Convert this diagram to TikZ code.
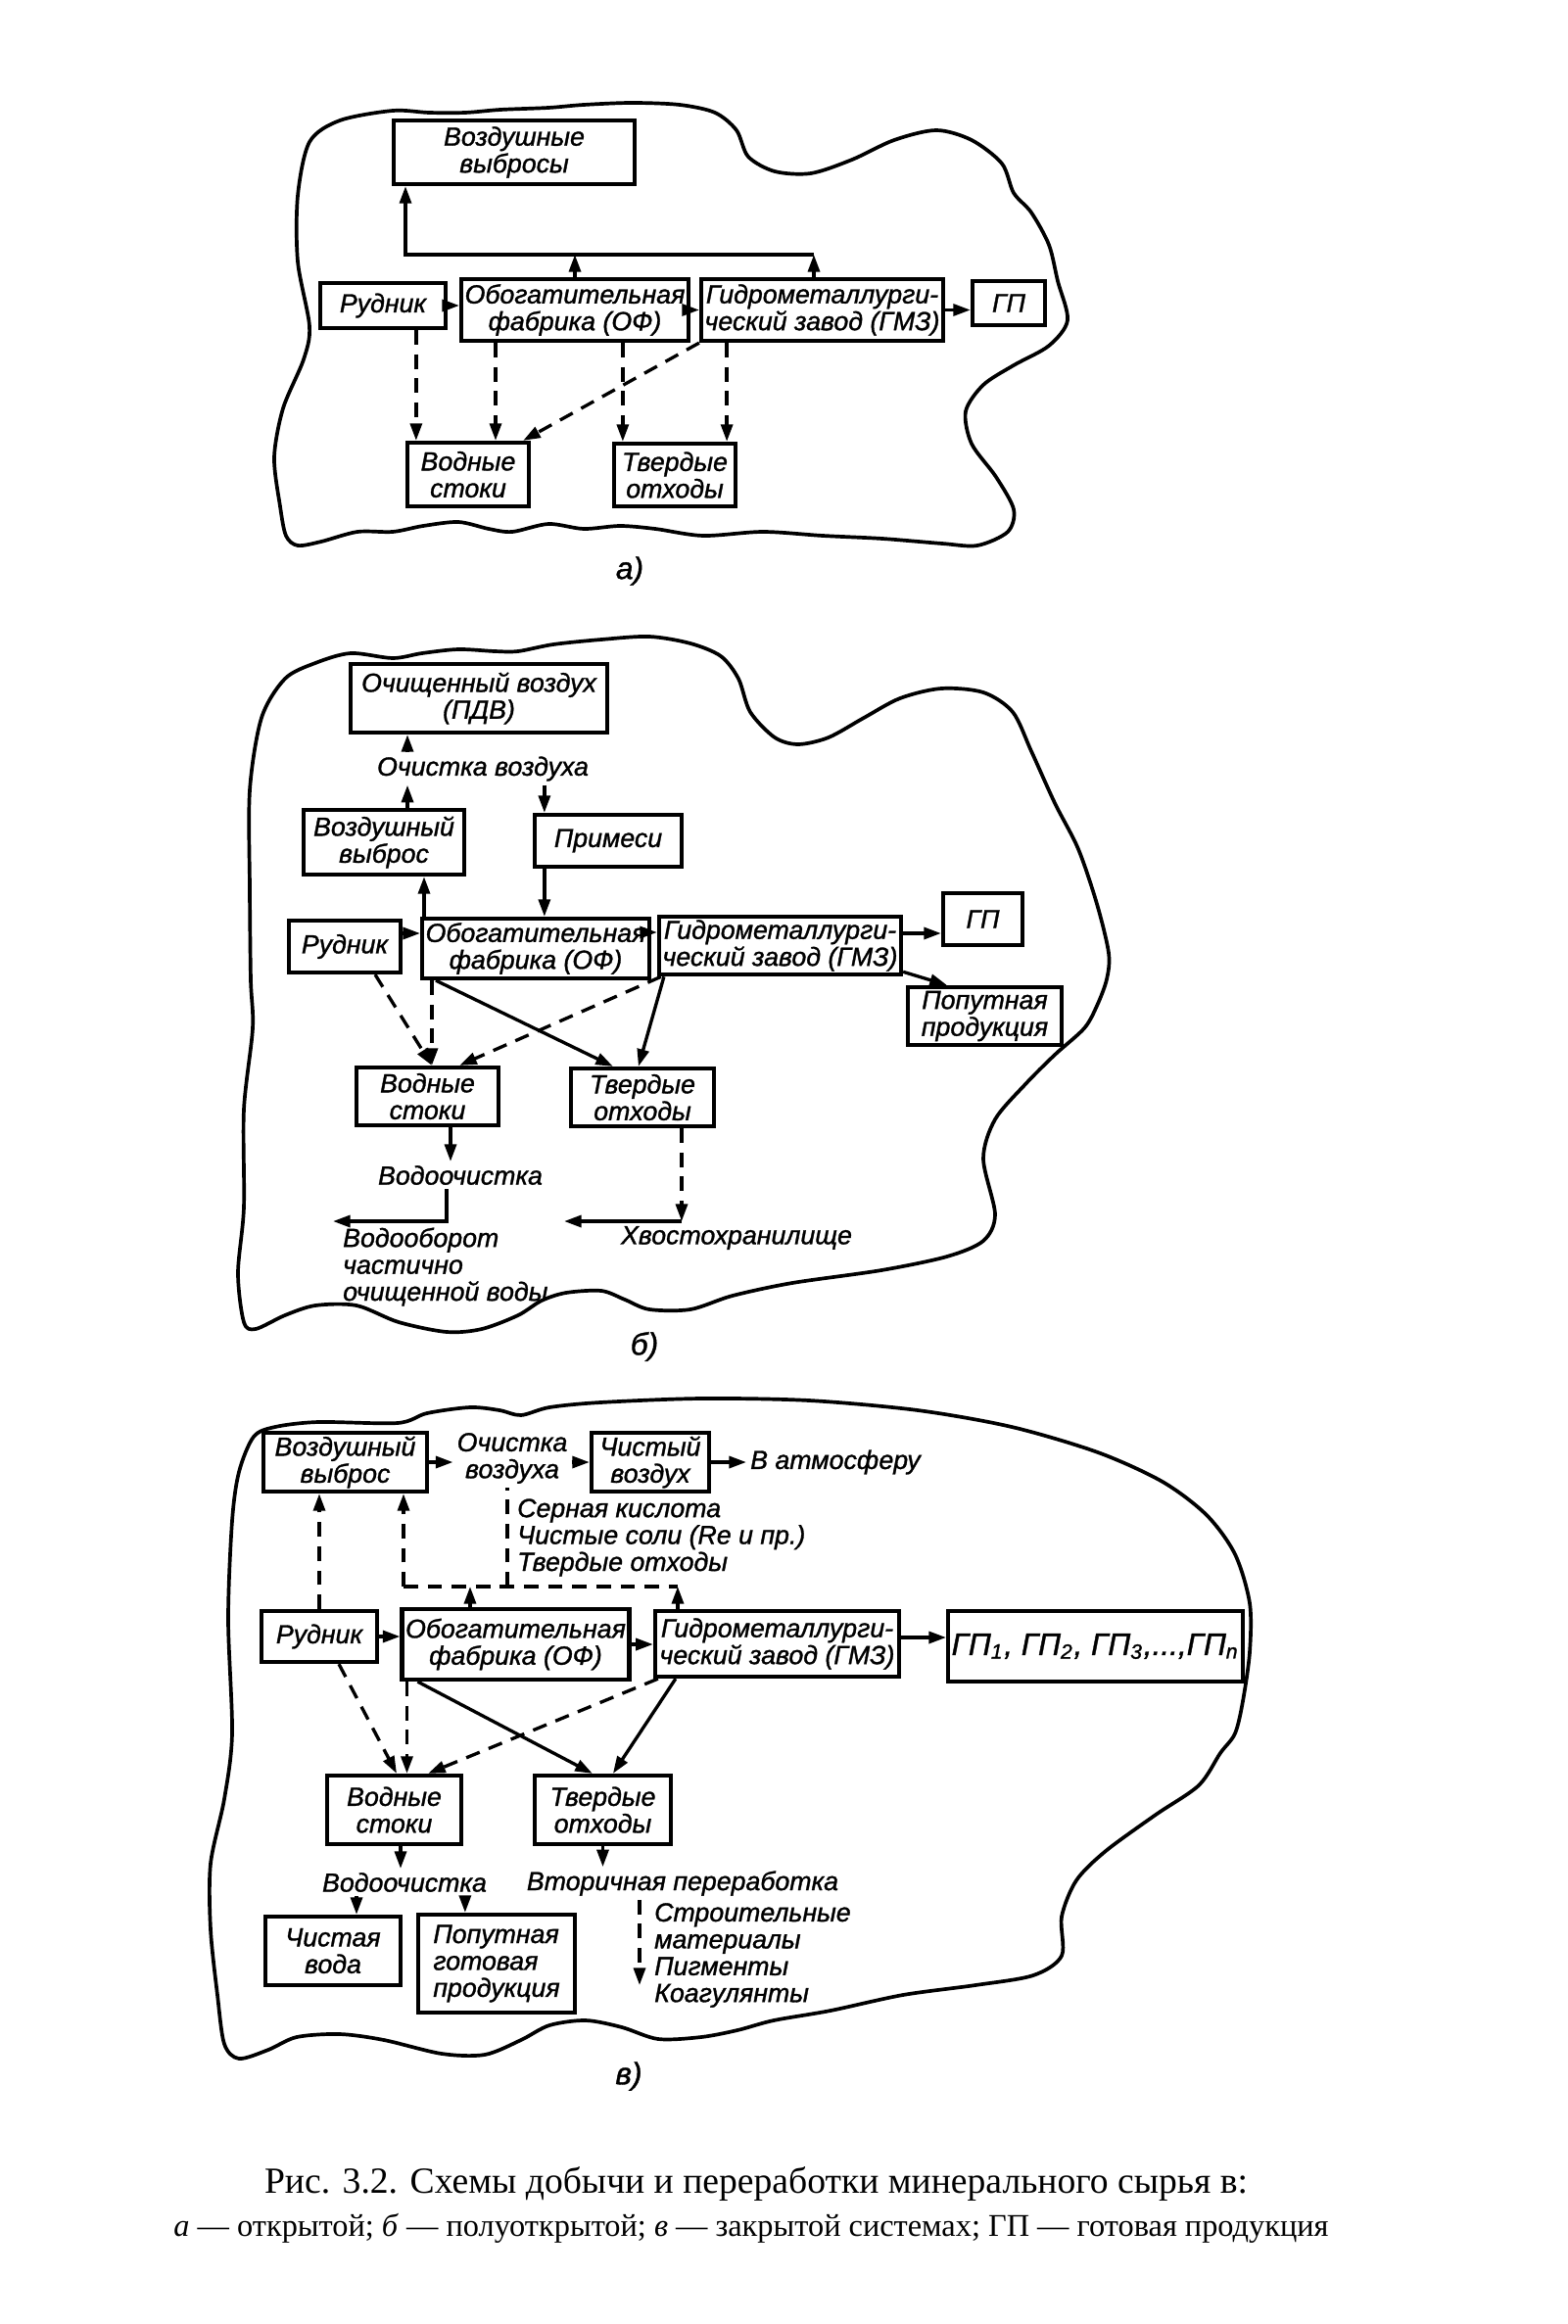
\documentclass[tikz,border=0pt]{standalone}
\usepackage{fontspec}
\setmainfont{Liberation Serif}
\newfontfamily\dsans{Liberation Sans}[ItalicFeatures={FakeBold=1.2}]
\usetikzlibrary{arrows.meta}
\newcommand{\dtext}{\dsans\itshape\fontsize{7.6}{7.8}\selectfont}
\newcommand{\plabel}{\dsans\itshape\fontsize{9}{10}\selectfont}
\newcommand{\gpfont}{\dsans\itshape\fontsize{9}{10}\selectfont}
\newcommand{\capone}{\fontsize{10.7}{12}\selectfont}
\newcommand{\captwo}{\fontsize{9.2}{11}\selectfont}
\begin{document}
\begin{tikzpicture}[x=0.01cm,y=-0.01cm,
  box/.style={draw, line width=1.2pt, inner sep=1pt, font=\dtext, align=center},
  lbl/.style={inner sep=1pt, font=\dtext, align=left},
  arr/.style={line width=0.95pt, -{Triangle[length=5pt,width=3.4pt]}},
  darr/.style={arr, dash pattern=on 4.2pt off 2.8pt},
  dline/.style={line width=0.95pt, dash pattern=on 4.2pt off 2.8pt},
  blob/.style={line width=1.05pt, line join=round}]
\fill[white] (0,0) rectangle (1600,2373);
\useasboundingbox (0,0) rectangle (1600,2373);

% ================= panel a =================
\draw[blob] plot[smooth cycle, tension=0.5] coordinates {
(316,145) (347,123) (401,113) (438,115) (475,115) (511,112) (560,110) (596,107)
(645,105) (694,107) (730,115) (752,133) (764,160) (791,175) (828,177) (870,163)
(913,143) (956,133) (992,143) (1023,167) (1035,197) (1053,217) (1071,250) (1080,287)
(1090,327) (1071,353) (1035,373) (1004,393) (986,420) (992,453) (1017,487) (1035,520)
(1029,543) (998,557) (962,555) (901,550) (840,547) (779,543) (718,547) (669,540)
(633,537) (596,540) (560,535) (523,543) (499,540) (468,533) (432,537) (401,543)
(365,543) (328,553) (304,557) (292,547) (286,517) (280,467) (289,417) (310,367)
(316,333) (304,267) (304,200)};

\node[box, minimum width=2.46cm, minimum height=0.65cm] (a_air) at (525,155.5) {Воздушные\\выбросы};
\node[box, minimum width=1.28cm, minimum height=0.46cm] (a_mine) at (391,312) {Рудник};
\node[box, minimum width=2.06cm, minimum height=0.63cm] (a_of) at (587,316.5) {Обогатительная\\фабрика (ОФ)};
\node[box, minimum width=2.37cm, minimum height=0.63cm] (a_gmz) at (839.5,316.5) {Гидрометаллурги-\\ческий завод (ГМЗ)};
\node[box, minimum width=0.74cm, minimum height=0.45cm] (a_gp) at (1030,309.5) {ГП};
\node[box, minimum width=1.24cm, minimum height=0.65cm] (a_water) at (478,484.5) {Водные\\стоки};
\node[box, minimum width=1.24cm, minimum height=0.64cm] (a_solid) at (689,485) {Твердые\\отходы};
\coordinate (a_bus1) at (414,260);
\coordinate (a_bus2) at (831,260);

\draw[arr] (a_mine.east) -- (a_mine.east -| a_of.west);
\draw[arr] (a_of.east) -- (a_gmz.west);
\draw[arr] (a_gmz.east) -- (a_gmz.east -| a_gp.west);
\draw[arr] (a_of.north) -- (a_of.north |- a_bus1);
\draw[arr] (a_bus2 |- a_gmz.north) -- (a_bus2);
\draw[arr] (a_bus2) -- (a_bus1) -- (a_bus1 |- a_air.south);

\coordinate (a_d1) at ([xshift=0.11cm]a_water.north west);
\draw[darr] (a_d1 |- a_mine.south) -- (a_d1);
\coordinate (a_d2) at ([xshift=0.37cm]a_of.south west);
\draw[darr] (a_d2) -- (a_d2 |- a_water.north);
\coordinate (a_d3) at ([xshift=0.11cm]a_solid.north west);
\draw[darr] (a_d3 |- a_of.south) -- (a_d3);
\coordinate (a_d4) at ([xshift=-0.11cm]a_solid.north east);
\draw[darr] (a_d4 |- a_gmz.south) -- (a_d4);
\draw[darr] (a_gmz.south west) -- ([xshift=-0.08cm]a_water.north east);

\node[font=\plabel] (a_lab) at (643,583) {а)};

% ================= panel b =================
\draw[blob] plot[smooth cycle, tension=0.5] coordinates {
(255,907) (255,807) (267,733) (291,693) (322,677) (358,667) (401,672) (431,667)
(468,663) (505,665) (529,665) (565,658) (614,653) (663,650) (705,657) (736,670)
(754,693) (766,727) (791,753) (815,760) (846,753) (882,733) (919,713) (961,703)
(1004,707) (1034,727) (1053,767) (1077,820) (1101,867) (1120,923) (1132,973) (1130,1000)
(1120,1027) (1107,1050) (1077,1077) (1047,1107) (1016,1143) (1004,1183) (1016,1240) (1004,1267)
(967,1283) (900,1297) (809,1310) (748,1323) (705,1337) (663,1337) (638,1327) (614,1318)
(578,1320) (553,1328) (529,1343) (492,1357) (456,1360) (407,1350) (364,1333) (322,1333)
(291,1343) (261,1357) (249,1350) (243,1300) (249,1233) (249,1133) (258,1050) (256,1000)};

\node[box, minimum width=2.62cm, minimum height=0.70cm] (b_clean) at (489,713) {Очищенный воздух\\(ПДВ)};
\node[box, minimum width=1.64cm, minimum height=0.66cm] (b_air) at (392,860) {Воздушный\\выброс};
\node[box, minimum width=1.50cm, minimum height=0.53cm] (b_imp) at (621,858.5) {Примеси};
\node[box, minimum width=1.14cm, minimum height=0.53cm] (b_mine) at (352,966.5) {Рудник};
\node[box, minimum width=2.10cm, minimum height=0.61cm] (b_of) at (547,968.5) {Обогатительная\\фабрика (ОФ)};
\node[box, minimum width=2.35cm, minimum height=0.55cm] (b_gmz) at (796.5,965.5) {Гидрометаллурги-\\ческий завод (ГМЗ)};
\node[box, minimum width=0.81cm, minimum height=0.53cm] (b_gp) at (1003.5,938.5) {ГП};
\node[box, minimum width=1.57cm, minimum height=0.59cm] (b_by) at (1005.5,1037.5) {Попутная\\продукция};
\node[box, minimum width=1.45cm, minimum height=0.59cm] (b_water) at (436.5,1119.5) {Водные\\стоки};
\node[box, minimum width=1.46cm, minimum height=0.59cm] (b_solid) at (656,1120.5) {Твердые\\отходы};
\node[lbl] (b_cl) at (493,785) {Очистка воздуха};

\coordinate (b_u) at ([xshift=0.24cm]b_air.north);
\draw[arr] (b_u) -- (b_u |- b_cl.south);
\draw[arr] (b_u |- b_cl.north) -- (b_u |- b_clean.south);
\coordinate (b_p) at ([xshift=0.12cm]b_imp.north west);
\draw[arr] (b_p |- b_cl.south) -- (b_p);
\draw[arr] (b_p |- b_imp.south) -- (b_p |- b_of.north);
\coordinate (b_o) at ([xshift=0.04cm]b_of.north west);
\draw[arr] (b_o) -- (b_o |- b_air.south);
\coordinate (b_h1) at ([yshift=0.135cm]b_mine.east);
\draw[arr] (b_h1) -- (b_h1 -| b_of.west);
\coordinate (b_h2) at ([yshift=0.165cm]b_of.east);
\draw[arr] (b_h2) -- (b_h2 -| b_gmz.west);
\coordinate (b_h3) at ([yshift=0.125cm]b_gmz.east);
\draw[arr] (b_h3) -- (b_h3 -| b_gp.west);
\draw[arr] ([yshift=0.05cm]b_gmz.south east) -- ([xshift=0.42cm]b_by.north west);

\draw[darr] ([xshift=0.31cm]b_mine.south) -- ([xshift=0.79cm]b_water.north west);
\coordinate (b_d2) at ([xshift=0.12cm]b_of.south west);
\draw[darr] (b_d2) -- (b_d2 |- b_water.north);
\draw[darr] ([xshift=0.04cm]b_gmz.south west) -- ([xshift=-0.42cm]b_water.north east);
\draw[arr] ([xshift=0.16cm]b_of.south west) -- ([xshift=0.45cm]b_solid.north west);
\draw[arr] ([xshift=0.07cm]b_gmz.south west) -- ([xshift=0.71cm]b_solid.north west);

\node[lbl] (b_wl) at (470,1200) {Водоочистка};
\coordinate (b_wv) at ([xshift=0.235cm]b_water.south);
\draw[arr] (b_wv) -- (b_wv |- b_wl.north);
\coordinate (b_wc) at (456,1247);
\coordinate (b_we) at (340,1247);
\draw[arr] (b_wc |- b_wl.south) -- (b_wc) -- (b_we);
\node[lbl, anchor=west] (b_wt) at (346,1293.5) {Водооборот\\частично\\очищенной воды};
\coordinate (b_tc) at (696,1247);
\coordinate (b_te) at (576,1247);
\draw[darr] (b_tc |- b_solid.south) -- (b_tc);
\draw[arr] (b_tc) -- (b_te);
\node[lbl] (b_tl) at (752,1264) {Хвостохранилище};
\node[font=\plabel] (b_lab) at (658,1375) {б)};

% ================= panel c =================
\draw[blob] plot[smooth cycle, tension=0.5] coordinates {
(233,1653) (237,1553) (244,1503) (259,1467) (281,1457) (325,1452) (406,1453) (436,1443)
(480,1437) (510,1440) (532,1445) (561,1437) (613,1432) (716,1428) (826,1430) (937,1440)
(1033,1457) (1121,1483) (1187,1513) (1232,1547) (1261,1587) (1276,1637) (1276,1687) (1269,1737)
(1261,1770) (1246,1790) (1224,1823) (1180,1853) (1129,1890) (1099,1920) (1084,1957) (1084,1997)
(1055,2017) (996,2027) (922,2037) (848,2053) (790,2063) (753,2073) (716,2080) (672,2082)
(635,2070) (598,2063) (561,2068) (532,2083) (495,2098) (451,2097) (392,2083) (347,2077)
(303,2080) (274,2093) (244,2102) (229,2087) (222,2037) (215,1970) (215,1903) (229,1837)
(237,1770)};

\node[box, minimum width=1.67cm, minimum height=0.60cm] (c_air) at (352.5,1493) {Воздушный\\выброс};
\node[lbl, align=center] (c_cl) at (523,1489) {Очистка\\воздуха};
\node[box, minimum width=1.20cm, minimum height=0.60cm] (c_cair) at (664,1493) {Чистый\\воздух};
\node[lbl, anchor=west] (c_atm) at (762,1493) {В атмосферу};
\draw[arr] (c_air.east) -- (c_air.east -| c_cl.west);
\draw[arr] (c_cl.east |- c_cair.west) -- (c_cair.west);
\draw[arr] (c_cair.east) -- (c_atm.west);

\node[box, minimum width=1.18cm, minimum height=0.52cm] (c_mine) at (326,1671) {Рудник};
\node[box, minimum width=2.19cm, minimum height=0.72cm] (c_of) at (526.5,1679) {Обогатительная\\фабрика (ОФ)};
\node[box, minimum width=2.49cm, minimum height=0.67cm] (c_gmz) at (793.5,1678.5) {Гидрометаллурги-\\ческий завод (ГМЗ)};
\node[box, minimum width=2.89cm, minimum height=0.72cm, font=\gpfont] (c_gp) at (1118.5,1681) {ГП\textsubscript{1}, ГП\textsubscript{2}, ГП\textsubscript{3},...,ГП\textsubscript{\itshape n}};
\node[box, minimum width=1.37cm, minimum height=0.70cm] (c_water) at (402.5,1848) {Водные\\стоки};
\node[box, minimum width=1.39cm, minimum height=0.70cm] (c_solid) at (615.5,1848) {Твердые\\отходы};
\node[box, minimum width=1.38cm, minimum height=0.70cm] (c_pure) at (340,1992) {Чистая\\вода};
\node[box, minimum width=1.60cm, minimum height=1.00cm, align=left] (c_by) at (507,2005) {Попутная\\готовая\\продукция};

\coordinate (c_b1) at (412,1620);
\coordinate (c_b2) at (692,1620);
\coordinate (c_v) at (518,1620);
\draw[dline] (c_b1) -- (c_b2);
\draw[darr] (c_b1) -- (c_b1 |- c_air.south);
\draw[dline] (c_v) -- (c_v |- c_cl.south);
\coordinate (c_ou) at ([xshift=-0.465cm]c_of.north);
\draw[arr] (c_ou) -- (c_ou |- c_b1);
\draw[arr] (c_b2 |- c_gmz.north) -- (c_b2);
\draw[darr] (c_mine.north) -- (c_mine.north |- c_air.south);
\node[lbl, anchor=west] (c_sub) at (524,1570) {Серная кислота\\Чистые соли (Re и пр.)\\Твердые отходы};

\draw[arr] (c_mine.east) -- (c_mine.east -| c_of.west);
\draw[arr] (c_of.east) -- (c_of.east -| c_gmz.west);
\draw[arr] ([yshift=0.065cm]c_gmz.east) -- ([yshift=0.065cm]c_gmz.east -| c_gp.west);

\draw[darr] ([xshift=0.20cm]c_mine.south) -- ([xshift=0.025cm]c_water.north);
\coordinate (c_d2) at ([xshift=0.07cm]c_of.south west);
\draw[darr] (c_d2) -- (c_d2 |- c_water.north);
\draw[darr] ([xshift=0.05cm]c_gmz.south west) -- ([xshift=-0.36cm]c_water.north east);
\draw[arr] ([xshift=0.18cm]c_of.south west) -- ([xshift=0.61cm]c_solid.north west);
\draw[arr] ([xshift=0.23cm]c_gmz.south west) -- ([xshift=0.82cm]c_solid.north west);

\node[lbl] (c_wl) at (413,1922) {Водоочистка};
\coordinate (c_wv) at ([xshift=0.065cm]c_water.south);
\draw[arr] (c_wv) -- (c_wv |- c_wl.north);
\coordinate (c_p1) at ([xshift=0.24cm]c_pure.north);
\draw[arr] (c_p1 |- c_wl.south) -- (c_p1);
\coordinate (c_p2) at ([xshift=0.50cm]c_by.north west);
\draw[arr] (c_p2 |- c_wl.south) -- (c_p2);
\node[lbl] (c_vl) at (697,1923) {Вторичная переработка};
\draw[arr] (c_solid.south) -- (c_solid.south |- c_vl.north);
\coordinate (c_ve) at (653,2027);
\draw[darr] (c_ve |- c_vl.south) -- (c_ve);
\node[lbl, anchor=west] (c_vt) at (664,1996.5) {Строительные\\материалы\\Пигменты\\Коагулянты};
\node[font=\plabel] (c_lab) at (642,2120) {в)};

% ================= caption =================
\node[font=\capone] (cap1) at (772,2230) {Рис. 3.2. Схемы добычи и переработки минерального сырья в:};
\node[font=\captwo] (cap2) at (767,2275) {\textit{а} — открытой; \textit{б} — полуоткрытой; \textit{в} — закрытой системах; ГП — готовая продукция};
\end{tikzpicture}
\end{document}
